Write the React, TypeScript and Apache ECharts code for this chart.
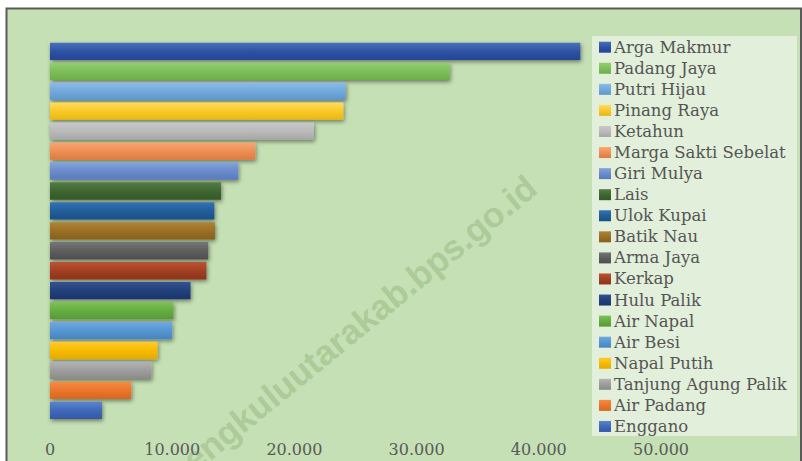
import React, { useEffect, useRef } from "react";
import * as echarts from "echarts";

const categories = [
  "Arga Makmur", "Padang Jaya", "Putri Hijau", "Pinang Raya", "Ketahun",
  "Marga Sakti Sebelat", "Giri Mulya", "Lais", "Ulok Kupai", "Batik Nau",
  "Arma Jaya", "Kerkap", "Hulu Palik", "Air Napal", "Air Besi",
  "Napal Putih", "Tanjung Agung Palik", "Air Padang", "Enggano",
];
const values = [
  43400, 32700, 24200, 24000, 21600,
  16800, 15400, 14000, 13450, 13500,
  12950, 12800, 11500, 10100, 10000,
  8800, 8300, 6650, 4250,
];
const tickValues = [0, 10000, 20000, 30000, 40000, 50000];
const barColors = [
  ["#4A70BB", "#2E53A3", "#234596"],
  ["#93CE72", "#7DBF5A", "#6DAE4B"],
  ["#8CBCE7", "#72A8DC", "#5F96CC"],
  ["#FFDB63", "#F9C928", "#E8B712"],
  ["#C8C8C8", "#BABABA", "#A6A6A6"],
  ["#F6A774", "#EE8F54", "#DE7A3E"],
  ["#86A4DA", "#6A8BCB", "#5A7BBB"],
  ["#527D44", "#3E6732", "#335828"],
  ["#3373B4", "#235E9A", "#1C4F85"],
  ["#AD8436", "#9A7025", "#86601C"],
  ["#767676", "#5E5E5E", "#4E4E4E"],
  ["#BA5434", "#A23F22", "#8C341B"],
  ["#33528F", "#22407B", "#1A356B"],
  ["#7DC256", "#66AD42", "#569A35"],
  ["#6EAAE0", "#5696D2", "#4684C0"],
  ["#FFCB2E", "#F7BA00", "#E5AA00"],
  ["#B4B4B4", "#9D9D9D", "#8A8A8A"],
  ["#F48B44", "#EB762C", "#D86622"],
  ["#5A84D0", "#4169B9", "#3459A8"],
];

const fmt = (v: number) => String(v).replace(/\B(?=(\d{3})+(?!\d))/g, ".");

export default function App() {
  const ref = useRef<HTMLDivElement>(null);
  useEffect(() => {
    if (!ref.current) return;
    const chart = echarts.init(ref.current, undefined, { renderer: "svg" });
    const series = categories.map((name, i) => {
      const c = barColors[i];
      return {
        name,
        type: "bar",
        stack: "all",
        barCategoryGap: "13%",
        data: categories.map((_, j) => (j === i ? values[i] : "-")),
        itemStyle: {
          color: new echarts.graphic.LinearGradient(0, 0, 0, 1, [
            { offset: 0, color: c[0] },
            { offset: 0.5, color: c[1] },
            { offset: 1, color: c[2] },
          ]),
          shadowColor: "rgba(0,0,0,0.45)",
          shadowBlur: 4,
          shadowOffsetX: 1,
          shadowOffsetY: 2,
        },
      };
    });
    chart.setOption({
      animation: false,
      backgroundColor: "#FFFFFF",
      graphic: [
        {
          type: "rect",
          z: -10,
          shape: { x: 6.5, y: 8.5, width: 794.5, height: 470 },
          style: { fill: "#C5E0B4", stroke: "#5A5A5A", lineWidth: 2 },
        },
        {
          type: "text",
          z: -5,
          x: 351,
          y: 330,
          rotation: (39.3 * Math.PI) / 180,
          style: {
            text: "bengkuluutarakab.bps.go.id",
            font: "bold 35px 'Liberation Sans', Arial, sans-serif",
            fill: "rgba(150,185,130,0.55)",
            align: "center",
            verticalAlign: "middle",
          },
        },
        {
          type: "rect",
          z: -4,
          shape: { x: 592, y: 36, width: 205, height: 400 },
          style: { fill: "#E2EFDA" },
        },
      ],
      grid: { left: 50, top: 41.4, width: 611, height: 378.9, containLabel: false },
      xAxis: {
        type: "value",
        min: tickValues[0],
        max: tickValues[tickValues.length - 1],
        interval: tickValues[1] - tickValues[0],
        axisLine: { show: false },
        axisTick: { show: false },
        splitLine: { show: false },
        axisLabel: {
          color: "#595959",
          fontSize: 16,
          fontFamily: "'DejaVu Serif', serif",
          margin: 21,
          formatter: (v: number) => fmt(v),
        },
      },
      yAxis: {
        type: "category",
        data: categories,
        inverse: true,
        axisLine: { show: false },
        axisTick: { show: false },
        axisLabel: { show: false },
        splitLine: { show: false },
      },
      legend: {
        orient: "vertical",
        left: 599,
        top: 38.2,
        padding: 0,
        itemWidth: 12,
        itemHeight: 11,
        itemGap: 3.07,
        icon: "rect",
        data: categories,
        textStyle: {
          color: "#555555",
          fontSize: 16.5,
          lineHeight: 18,
          fontFamily: "'DejaVu Serif', serif",
          padding: [0, 0, 0, -2],
        },
      },
      series,
    });
    return () => chart.dispose();
  }, []);
  return (
    <div
      ref={ref}
      style={{ position: "fixed", left: 0, top: 0, width: 802, height: 461 }}
    />
  );
}
